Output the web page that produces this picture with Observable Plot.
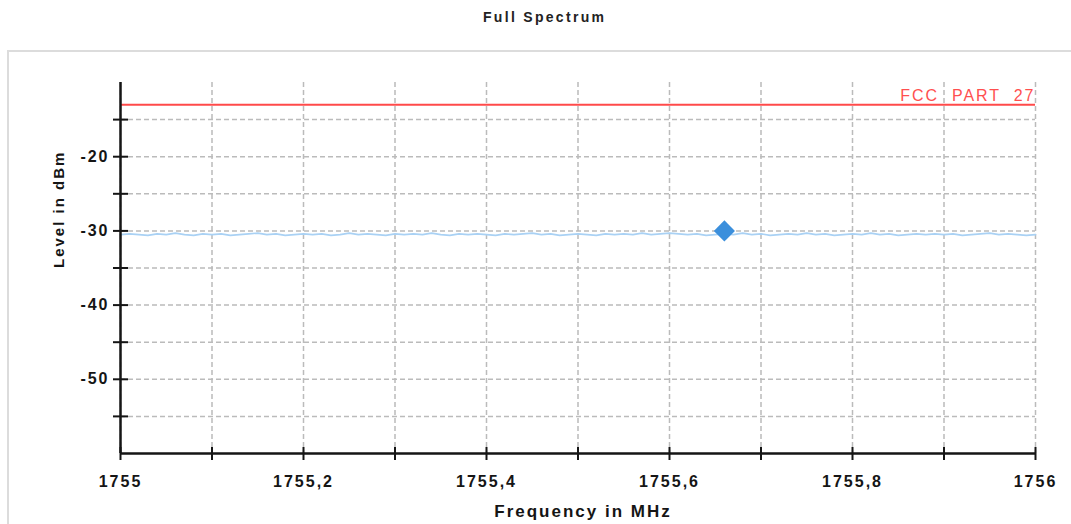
<!DOCTYPE html>
<html><head><meta charset="utf-8">
<script src="https://cdn.jsdelivr.net/npm/d3@7"></script>
<script src="https://cdn.jsdelivr.net/npm/@observablehq/plot@0.6"></script>
<style>
html,body{margin:0;padding:0;background:#fff;width:1071px;height:524px;overflow:hidden;font-family:"Liberation Sans",Arial,sans-serif;}
#title{height:40px;position:relative;}
#title span{position:absolute;left:483px;top:9px;font-size:14px;font-weight:bold;letter-spacing:2.3px;color:#222;}
#frame{position:absolute;left:7px;top:50px;width:1100px;height:520px;border:2px solid #dcdcdc;box-sizing:border-box;}
#chart{position:relative;}
</style></head><body>
<div id="frame"></div>
<div id="title"><span>Full Spectrum</span></div>
<div id="chart"></div>
<script>
// ---- data ----
const titleText = "Full Spectrum";
const xLabel = "Frequency in MHz";
const yLabel = "Level in dBm";
const fccLabel = "FCC  PART  27";
const fccLimit = -13;
const startFreq = 1755;
const stepFreq = 0.01;
const levels = [
-30.5,-30.4,-30.5,-30.6,-30.4,-30.5,-30.3,-30.5,-30.6,-30.4,
-30.5,-30.4,-30.6,-30.5,-30.4,-30.3,-30.5,-30.4,-30.6,-30.5,
-30.4,-30.5,-30.4,-30.6,-30.5,-30.3,-30.5,-30.4,-30.5,-30.6,
-30.4,-30.5,-30.4,-30.5,-30.3,-30.5,-30.6,-30.4,-30.5,-30.4,
-30.5,-30.6,-30.4,-30.5,-30.4,-30.3,-30.5,-30.4,-30.6,-30.5,
-30.4,-30.5,-30.6,-30.4,-30.5,-30.4,-30.5,-30.3,-30.5,-30.4,
-30.3,-30.4,-30.5,-30.4,-30.6,-30.5,-30.4,-30.5,-30.3,-30.5,
-30.4,-30.6,-30.5,-30.4,-30.5,-30.3,-30.5,-30.4,-30.6,-30.5,
-30.4,-30.5,-30.3,-30.5,-30.4,-30.6,-30.5,-30.4,-30.5,-30.4,
-30.5,-30.4,-30.6,-30.5,-30.4,-30.3,-30.5,-30.4,-30.5,-30.6,-30.5
];
const markerFreq = [1755.66];
const markerLevel = [-30.0];
const xDomain = [1755, 1756];
const yDomain = [-60, -10];
const xMinorTicks = [1755, 1755.1, 1755.2, 1755.3, 1755.4, 1755.5, 1755.6, 1755.7, 1755.8, 1755.9, 1756];
const xLabelTicks = [1755, 1755.2, 1755.4, 1755.6, 1755.8, 1756];
const yMinorTicks = [-55, -50, -45, -40, -35, -30, -25, -20, -15];
const yLabelTicks = [-50, -40, -30, -20];

// ---- build ----
const trace = levels.map((v, i) => ({f: startFreq + i * stepFreq, v}));
const marker = markerFreq.map((f, i) => ({f, v: markerLevel[i]}));
const ink = "#151515";
const grid = {stroke: "#bbbbbb", strokeOpacity: 1, strokeWidth: 1.5, strokeDasharray: "5,3"};

const plot = Plot.plot({
  width: 1071, height: 484,
  marginLeft: 120, marginRight: 36, marginTop: 42, marginBottom: 71,
  style: {background: "transparent", fontFamily: "'Liberation Sans', Arial, sans-serif", color: ink},
  x: {domain: xDomain},
  y: {domain: yDomain},
  marks: [
    Plot.gridX(xMinorTicks, grid),
    Plot.gridY(yMinorTicks, grid),
    Plot.ruleY([fccLimit], {stroke: "#ff4a4a", strokeWidth: 2}),
    Plot.text([fccLabel], {x: xDomain[1], y: fccLimit, textAnchor: "end", dx: 0, dy: -9, fill: "#ff4f4f", fontSize: 16, ariaLabel: "fcc"}),
    Plot.line(trace, {x: "f", y: "v", stroke: "#a9d1f4", strokeWidth: 1.6}),
    Plot.dot(marker, {x: "f", y: "v", symbol: "diamond2", r: 9.5, fill: "#3b8fdc", stroke: null}),
    Plot.ruleX([xDomain[0]], {stroke: ink, strokeWidth: 2.5}),
    Plot.ruleY([yDomain[0]], {stroke: ink, strokeWidth: 2.5}),
    Plot.axisY(yMinorTicks, {tickSize: 15, insetLeft: 8, tickFormat: () => "", label: null, strokeWidth: 2, stroke: ink}),
    Plot.axisX(xMinorTicks, {tickSize: 13, insetBottom: 6, tickFormat: () => "", label: null, strokeWidth: 2, stroke: ink}),
    Plot.axisY(yLabelTicks, {tickSize: 0, tickPadding: 11, label: null, fontSize: 16, fontWeight: "bold", tickFormat: d => String(d)}),
    Plot.axisX(xLabelTicks, {tickSize: 0, tickPadding: 22, label: null, fontSize: 16, fontWeight: "bold", tickFormat: d => String(d).replace(".", ",")}),
    Plot.text([yLabel], {frameAnchor: "left", dx: -61, rotate: -90, fontSize: 15, fontWeight: "bold"}),
    Plot.text([xLabel], {frameAnchor: "bottom", dy: 63, dx: 5, fontSize: 17, fontWeight: "bold"})
  ]
});
d3.select(plot).selectAll("text").style("letter-spacing", "2px");
d3.select(plot).selectAll('g[aria-label="fcc"] text').style("letter-spacing", "4px").style("white-space", "pre");
document.getElementById("chart").appendChild(plot);
</script></body></html>
